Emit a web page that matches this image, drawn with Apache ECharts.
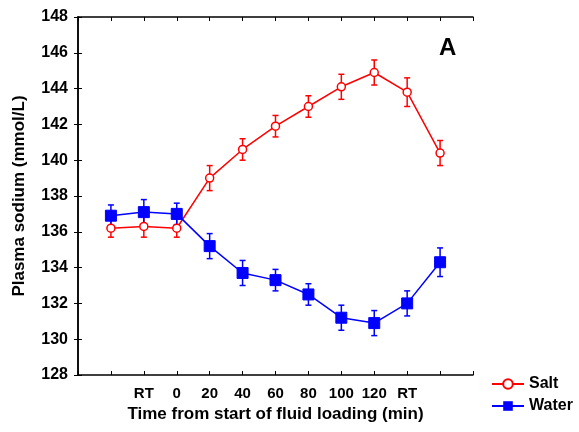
<!DOCTYPE html>
<html><head><meta charset="utf-8">
<script src="https://cdn.jsdelivr.net/npm/echarts@6/dist/echarts.min.js"></script>
<style>html,body{margin:0;padding:0;background:#fff}#c{width:579px;height:432px}</style>
</head><body><div id="c"></div>
<script>
var tickLabels = ['', '', 'RT', '0', '20', '40', '60', '80', '100', '120', 'RT', '', ''];
var positions = [1, 2, 3, 4, 5, 6, 7, 8, 9, 10, 11];
var saltMean = [136.2, 136.3, 136.2, 139.0, 140.6, 141.9, 143.0, 144.1, 144.9, 143.8, 140.4];
var saltErr  = [0.5, 0.6, 0.5, 0.7, 0.6, 0.6, 0.6, 0.7, 0.7, 0.8, 0.7];
var waterMean = [136.9, 137.1, 137.0, 135.2, 133.7, 133.3, 132.5, 131.2, 130.9, 132.0, 134.3];
var waterErr  = [0.6, 0.7, 0.6, 0.7, 0.7, 0.6, 0.6, 0.7, 0.7, 0.7, 0.8];

var FONT = 'Liberation Sans, Arial, sans-serif';
function pts(m){ return positions.map(function(x,i){return [x,m[i]];}); }
function errData(m,e){ return positions.map(function(x,i){return [x,m[i]-e[i],m[i]+e[i]];}); }
function errSeries(name,m,e,color){
  return {
    type:'custom', name:name+'err', data:errData(m,e), z:1,
    renderItem:function(params,api){
      var x=api.value(0), lo=api.coord([x,api.value(1)]), hi=api.coord([x,api.value(2)]);
      var w=3;
      var st={stroke:color,lineWidth:1.5};
      return {type:'group',children:[
        {type:'line',shape:{x1:lo[0],y1:lo[1],x2:hi[0],y2:hi[1]},style:st},
        {type:'line',shape:{x1:lo[0]-w,y1:lo[1],x2:lo[0]+w,y2:lo[1]},style:st},
        {type:'line',shape:{x1:hi[0]-w,y1:hi[1],x2:hi[0]+w,y2:hi[1]},style:st}
      ]};
    }
  };
}
var chart = echarts.init(document.getElementById('c'));
var axisLineStyle = {color:'#000',width:1.5};
chart.setOption({
  animation:false,
  grid:{left:78,right:106,top:17,bottom:57},
  title:{text:'A',left:434,top:31,textStyle:{fontFamily:FONT,fontSize:24,fontWeight:'bold',color:'#000'}},
  legend:{
    orient:'vertical', left:486, top:371, itemWidth:32, itemHeight:12, itemGap:6,
    data:['Salt','Water'],
    textStyle:{fontFamily:FONT,fontSize:16,fontWeight:'bold',color:'#000'}
  },
  xAxis:[{
    type:'value',min:0,max:12,interval:1,
    name:'Time from start of fluid loading (min)',nameLocation:'middle',nameGap:30,
    nameTextStyle:{fontFamily:FONT,fontSize:17,fontWeight:'bold',color:'#000'},
    axisLine:{lineStyle:axisLineStyle},
    axisTick:{inside:true,length:4,lineStyle:{color:'#000'}},
    axisLabel:{fontFamily:FONT,fontSize:15,fontWeight:'bold',color:'#000',margin:11,
      formatter:function(v){return tickLabels[Math.round(v)]||'';}},
    splitLine:{show:false}
  },{
    type:'value',min:0,max:12,interval:1,position:'top',
    axisLine:{lineStyle:axisLineStyle},
    axisTick:{inside:true,length:4,lineStyle:{color:'#000'}},
    axisLabel:{show:false},splitLine:{show:false}
  }],
  yAxis:[{
    type:'value',min:128,max:148,interval:2,
    name:'Plasma sodium (mmol/L)',nameLocation:'middle',nameGap:50,
    nameTextStyle:{fontFamily:FONT,fontSize:17,fontWeight:'bold',color:'#000'},
    axisLine:{show:true,lineStyle:axisLineStyle},
    axisTick:{inside:true,length:4,lineStyle:{color:'#000'}},
    axisLabel:{fontFamily:FONT,fontSize:16,fontWeight:'bold',color:'#000',margin:10},
    splitLine:{show:false}
  },{
    type:'value',min:128,max:148,interval:2,position:'right',
    axisLine:{show:true,lineStyle:axisLineStyle},
    axisTick:{inside:true,length:4,lineStyle:{color:'#000'}},
    axisLabel:{show:false},splitLine:{show:false}
  }],
  series:[
    errSeries('Salt',saltMean,saltErr,'#ff0000'),
    errSeries('Water',waterMean,waterErr,'#0000ff'),
    {type:'line',name:'Salt',data:pts(saltMean),z:3,
      symbol:'circle',symbolSize:8,
      itemStyle:{color:'#fff',borderColor:'#ff0000',borderWidth:1.5},
      lineStyle:{color:'#ff0000',width:1.5}},
    {type:'line',name:'Water',data:pts(waterMean),z:3,
      symbol:'rect',symbolSize:11,
      itemStyle:{color:'#0000ff',borderColor:'#0000ff'},
      lineStyle:{color:'#0000ff',width:1.5}}
  ]
});
</script></body></html>
